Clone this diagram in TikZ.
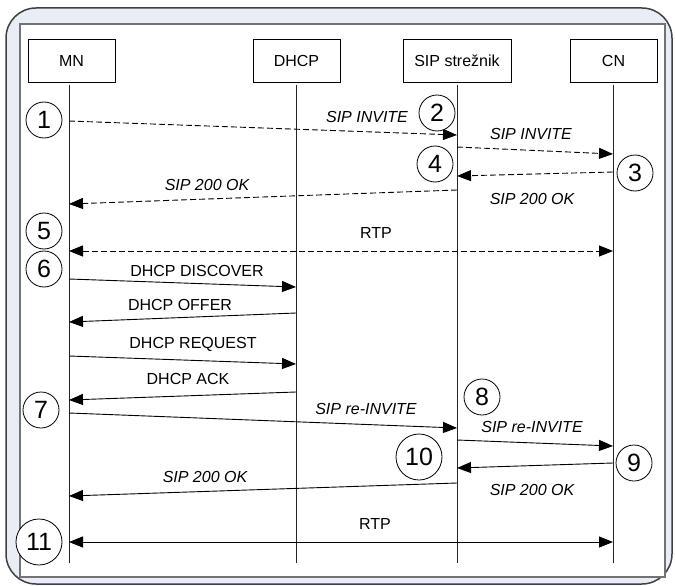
\documentclass[tikz,border=0pt]{standalone}
\usepackage{fontspec}
\setmainfont{Liberation Sans}
\usetikzlibrary{arrows.meta}
\definecolor{bgblue}{RGB}{233,237,245}
\begin{document}
\begin{tikzpicture}[x=1pt,y=-1pt,
 hdr/.style={draw=black, line width=0.8pt, minimum width=87pt, minimum height=43pt, inner sep=0pt, font=\fontsize{16}{19}\selectfont, fill=white},
 life/.style={draw=black!85, line width=0.8pt},
 msg/.style={draw=black, line width=0.9pt, -{Triangle[length=14pt,width=11pt]}},
 dmsg/.style={msg, dash pattern=on 6pt off 3pt},
 bmsg/.style={draw=black, line width=0.9pt, {Triangle[length=14pt,width=11pt]}-{Triangle[length=14pt,width=11pt]}},
 lbl/.style={font=\fontsize{16}{19}\selectfont\itshape, inner sep=0pt},
 plbl/.style={font=\fontsize{16}{19}\selectfont, inner sep=0pt},
 num/.style={draw=black, circle, line width=0.8pt, minimum size=36pt, inner sep=0pt, font=\fontsize{25}{25}\selectfont, fill=white},
 bignum/.style={num, minimum size=46pt}]

\useasboundingbox (0,0) rectangle (675,586);
\draw[line width=1.5pt, draw=black!75, fill=bgblue, rounded corners=30pt] (6,8) rectangle (672,584);
\draw[line width=1.2pt, draw=black!55, fill=white] (20,24) rectangle (665,577);

% headers
\node[hdr] (mn) at (71.5,60.5) {MN};
\node[hdr] (dhcp) at (296.5,60.5) {DHCP};
\node[hdr, minimum width=108pt] (sip) at (457,60.5) {SIP strežnik};
\node[hdr] (cn) at (613.5,60.5) {CN};

% lifelines
\coordinate (mnT) at (69,85);   \coordinate (mnB) at (69,563);
\coordinate (dhT) at (296,85);  \coordinate (dhB) at (296,563);
\coordinate (siT) at (457,85);  \coordinate (siB) at (457,563);
\coordinate (cnT) at (613,85);  \coordinate (cnB) at (613,563);
\draw[life] (mnT) -- (mnB);
\draw[life] (dhT) -- (dhB);
\draw[life] (siT) -- (siB);
\draw[life] (cnT) -- (cnB);

% message end points
\coordinate (a1) at (69,121);  \coordinate (b1) at (457,135);
\coordinate (a2) at (457,147); \coordinate (b2) at (613,154);
\coordinate (a3) at (613,172); \coordinate (b3) at (457,176);
\coordinate (a4) at (457,190); \coordinate (b4) at (69,204);
\coordinate (a5) at (69,251);  \coordinate (b5) at (613,251);
\coordinate (a6) at (69,279);  \coordinate (b6) at (296,287);
\coordinate (a7) at (296,313); \coordinate (b7) at (69,322);
\coordinate (a8) at (69,356);  \coordinate (b8) at (296,364);
\coordinate (a9) at (296,392); \coordinate (b9) at (69,400);
\coordinate (a10) at (69,413); \coordinate (b10) at (457,428);
\coordinate (a11) at (457,440); \coordinate (b11) at (613,446);
\coordinate (a12) at (613,463); \coordinate (b12) at (457,468);
\coordinate (a13) at (457,483); \coordinate (b13) at (69,496);
\coordinate (a14) at (69,542); \coordinate (b14) at (613,542);

\draw[dmsg] (a1) -- (b1);
\draw[dmsg] (a2) -- (b2);
\draw[dmsg] (a3) -- (b3);
\draw[dmsg] (a4) -- (b4);
\draw[bmsg, dash pattern=on 6pt off 3pt] (a5) -- (b5);
\draw[msg] (a6) -- (b6);
\draw[msg] (a7) -- (b7);
\draw[msg] (a8) -- (b8);
\draw[msg] (a9) -- (b9);
\draw[msg] (a10) -- (b10);
\draw[msg] (a11) -- (b11);
\draw[msg] (a12) -- (b12);
\draw[msg] (a13) -- (b13);
\draw[bmsg] (a14) -- (b14);

% labels
\node[lbl] (l1) at (367,117) {SIP INVITE};
\node[lbl] (l2) at (531,134) {SIP INVITE};
\node[lbl] (l3) at (532,199) {SIP 200 OK};
\node[lbl] (l4) at (207,185) {SIP 200 OK};
\node[plbl] (l5) at (376,233) {RTP};
\node[plbl] (l6) at (197,271) {DHCP DISCOVER};
\node[plbl] (l7) at (180,305) {DHCP OFFER};
\node[plbl] (l8) at (193,344) {DHCP REQUEST};
\node[plbl] (l9) at (188,379) {DHCP ACK};
\node[lbl] (l10) at (366,409) {SIP re-INVITE};
\node[lbl] (l11) at (532,427) {SIP re-INVITE};
\node[lbl] (l12) at (532,490) {SIP 200 OK};
\node[lbl] (l13) at (205,477) {SIP 200 OK};
\node[plbl] (l14) at (375,524) {RTP};

% step numbers
\node[num] (n1) at (44,120) {1};
\node[num] (n2) at (437,113) {2};
\node[num] (n3) at (635,173) {3};
\node[num] (n4) at (435,164) {4};
\node[num] (n5) at (44,231) {5};
\node[num] (n6) at (44,269) {6};
\node[num] (n7) at (41,410) {7};
\node[num] (n8) at (482,397) {8};
\node[num] (n9) at (634,463) {9};
\node[bignum] (n10) at (419,457) {10};
\node[bignum] (n11) at (39,542) {11};
\end{tikzpicture}
\end{document}
